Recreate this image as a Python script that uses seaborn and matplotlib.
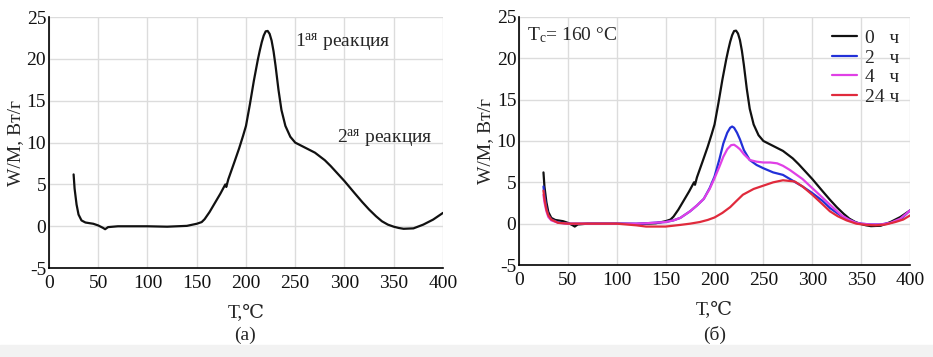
import numpy as np
import pandas as pd
import matplotlib
matplotlib.use("Agg")
import matplotlib.pyplot as plt
import seaborn as sns
from matplotlib.patches import Rectangle

# ---- data (T in °C, W/M in W/g) ----
t_0h = [25, 26, 28, 30, 33, 37, 45, 50, 55, 57, 60, 70, 100, 120, 140, 150,
        155, 158, 163, 168, 174, 179, 180, 182, 188, 193, 197, 200, 204, 208,
        212, 214, 216, 218, 220, 222, 224, 226, 228, 230, 233, 236, 240, 245,
        250, 260, 270, 280, 286, 293, 300, 310, 318, 325, 332, 338, 344, 350,
        355, 360, 370, 380, 390, 400]
w_0h = [6.2, 4.5, 2.6, 1.4, 0.7, 0.45, 0.3, 0.1, -0.2, -0.35, -0.1, 0.0, 0.0,
        -0.05, 0.05, 0.3, 0.5, 0.85, 1.7, 2.7, 3.9, 5.0, 4.7, 5.6, 7.6, 9.3,
        10.8, 12.0, 14.6, 17.4, 19.9, 21.0, 22.0, 22.8, 23.3, 23.35, 23.0,
        22.2, 20.9, 19.2, 16.3, 13.9, 12.0, 10.7, 10.0, 9.4, 8.8, 7.9, 7.2,
        6.3, 5.4, 4.0, 2.9, 2.0, 1.2, 0.6, 0.2, -0.05, -0.2, -0.3, -0.25, 0.2,
        0.8, 1.6]

t_2h = [25, 26, 28, 30, 33, 40, 50, 100, 120, 130, 150, 158, 165, 175, 182,
        189, 195, 200, 205, 209, 213, 216, 218, 220, 223, 226, 230, 236, 243,
        250, 260, 270, 280, 290, 300, 310, 318, 330, 338, 345, 350, 360, 370,
        380, 390, 400]
w_2h = [4.5, 3.4, 1.9, 1.0, 0.5, 0.15, 0.0, 0.0, 0.0, 0.05, 0.2, 0.4, 0.7, 1.5,
        2.2, 3.0, 4.3, 5.7, 7.8, 9.7, 11.0, 11.6, 11.75, 11.6, 11.0, 10.2, 8.9,
        7.7, 7.1, 6.7, 6.2, 5.9, 5.2, 4.5, 3.7, 2.8, 1.9, 0.9, 0.45, 0.1, 0.0,
        -0.1, -0.1, 0.1, 0.5, 1.6]

t_4h = [25, 26, 28, 30, 33, 40, 50, 100, 120, 130, 150, 158, 165, 175, 182,
        189, 195, 200, 205, 209, 213, 217, 220, 223, 226, 230, 236, 243, 250,
        257, 264, 270, 277, 290, 300, 310, 318, 330, 338, 345, 350, 360, 370,
        380, 390, 400]
w_4h = [3.5, 2.6, 1.5, 0.8, 0.4, 0.1, 0.0, 0.0, 0.0, 0.05, 0.2, 0.4, 0.7, 1.5,
        2.2, 3.0, 4.2, 5.5, 6.9, 8.1, 9.0, 9.5, 9.55, 9.3, 9.0, 8.4, 7.7, 7.5,
        7.4, 7.4, 7.3, 7.0, 6.5, 5.4, 4.3, 3.2, 2.3, 1.0, 0.45, 0.1, 0.0, -0.1,
        -0.1, 0.1, 0.6, 1.6]

t_24h = [25, 26, 28, 30, 33, 40, 50, 100, 120, 130, 150, 165, 175, 185, 193,
         200, 208, 216, 222, 229, 240, 250, 260, 270, 282, 290, 300, 310, 318,
         326, 335, 345, 355, 365, 375, 385, 393, 400]
w_24h = [4.0, 3.0, 1.7, 1.0, 0.5, 0.1, 0.0, 0.0, -0.2, -0.35, -0.35, -0.15,
         0.0, 0.2, 0.45, 0.75, 1.3, 2.0, 2.7, 3.5, 4.2, 4.6, 5.0, 5.25, 5.1,
         4.5, 3.5, 2.4, 1.5, 0.9, 0.4, 0.0, -0.15, -0.2, -0.1, 0.2, 0.5, 1.0]

labels = ["0   ч", "2   ч", "4   ч", "24 ч"]
colors = ["#111111", "#2230d8", "#e040e6", "#e02a3c"]

x_ticks = [0, 50, 100, 150, 200, 250, 300, 350, 400]
y_ticks = [-5, 0, 5, 10, 15, 20, 25]

# ---- frames ----
df_a = pd.DataFrame({"T": t_0h, "W": w_0h})
df_b = pd.concat([
    pd.DataFrame({"T": t, "W": w, "time": lab})
    for t, w, lab in zip([t_0h, t_2h, t_4h, t_24h],
                         [w_0h, w_2h, w_4h, w_24h], labels)
], ignore_index=True)

# ---- style ----
sns.set_theme(style="whitegrid")
plt.rcParams["font.family"] = ["Liberation Serif", "DejaVu Serif"]
plt.rcParams["mathtext.fontset"] = "custom"
plt.rcParams["mathtext.rm"] = "Liberation Serif"
plt.rcParams["mathtext.it"] = "Liberation Serif:italic"
plt.rcParams["axes.unicode_minus"] = False
plt.rcParams["font.size"] = 14

fig = plt.figure(figsize=(9.33, 3.57), dpi=100)
fig.patches.append(Rectangle((0, 0), 1, 0.035, transform=fig.transFigure,
                             color="#f2f2f2", zorder=-1))

ax_a = fig.add_axes([0.0525, 0.249, 0.4223, 0.703])
ax_b = fig.add_axes([0.5563, 0.2577, 0.4191, 0.6947])

sns.lineplot(data=df_a, x="T", y="W", color=colors[0], linewidth=1.6,
             estimator=None, sort=False, ax=ax_a)
sns.lineplot(data=df_b, x="T", y="W", hue="time", palette=dict(zip(labels, colors)),
             linewidth=1.6, estimator=None, sort=False, ax=ax_b)

for ax in (ax_a, ax_b):
    ax.set_xlim(0, 400)
    ax.set_ylim(-5, 25)
    ax.set_xticks(x_ticks)
    ax.set_yticks(y_ticks)
    ax.grid(True, color="#dcdcdc", linewidth=1.0)
    ax.set_facecolor("white")
    for side in ("top", "right"):
        ax.spines[side].set_visible(False)
    for side in ("left", "bottom"):
        ax.spines[side].set_visible(True)
        ax.spines[side].set_color("black")
        ax.spines[side].set_linewidth(1.2)
    ax.tick_params(direction="in", length=3, width=1, color="black",
                   labelsize=14, pad=2, labelcolor="#111111")
    ax.tick_params(axis="x", pad=5)
    ax.set_xlabel("T,℃", fontsize=14, labelpad=9)
    ax.set_ylabel("W/M, Вт/г", fontsize=14, labelpad=2)

ax_a.text(250, 22.0, r"1$^{\mathrm{ая}}$ реакция", fontsize=14, va="center")
ax_a.text(292, 10.5, r"2$^{\mathrm{ая}}$ реакция", fontsize=14, va="center")
ax_b.text(8, 22.8, r"T$_{\mathrm{c}}$= 160 °C", fontsize=14, va="center")

ax_b.legend(loc="upper left", bbox_to_anchor=(0.8, 0.95), frameon=False,
            fontsize=14, handlelength=1.3, handletextpad=0.4,
            labelspacing=0.1, borderpad=0, borderaxespad=0, title=None)

fig.text(245 / 933, 1 - 335 / 357, "(а)", fontsize=14, ha="center", va="center")
fig.text(715 / 933, 1 - 335 / 357, "(б)", fontsize=14, ha="center", va="center")

fig.savefig("out.png", dpi=100)
